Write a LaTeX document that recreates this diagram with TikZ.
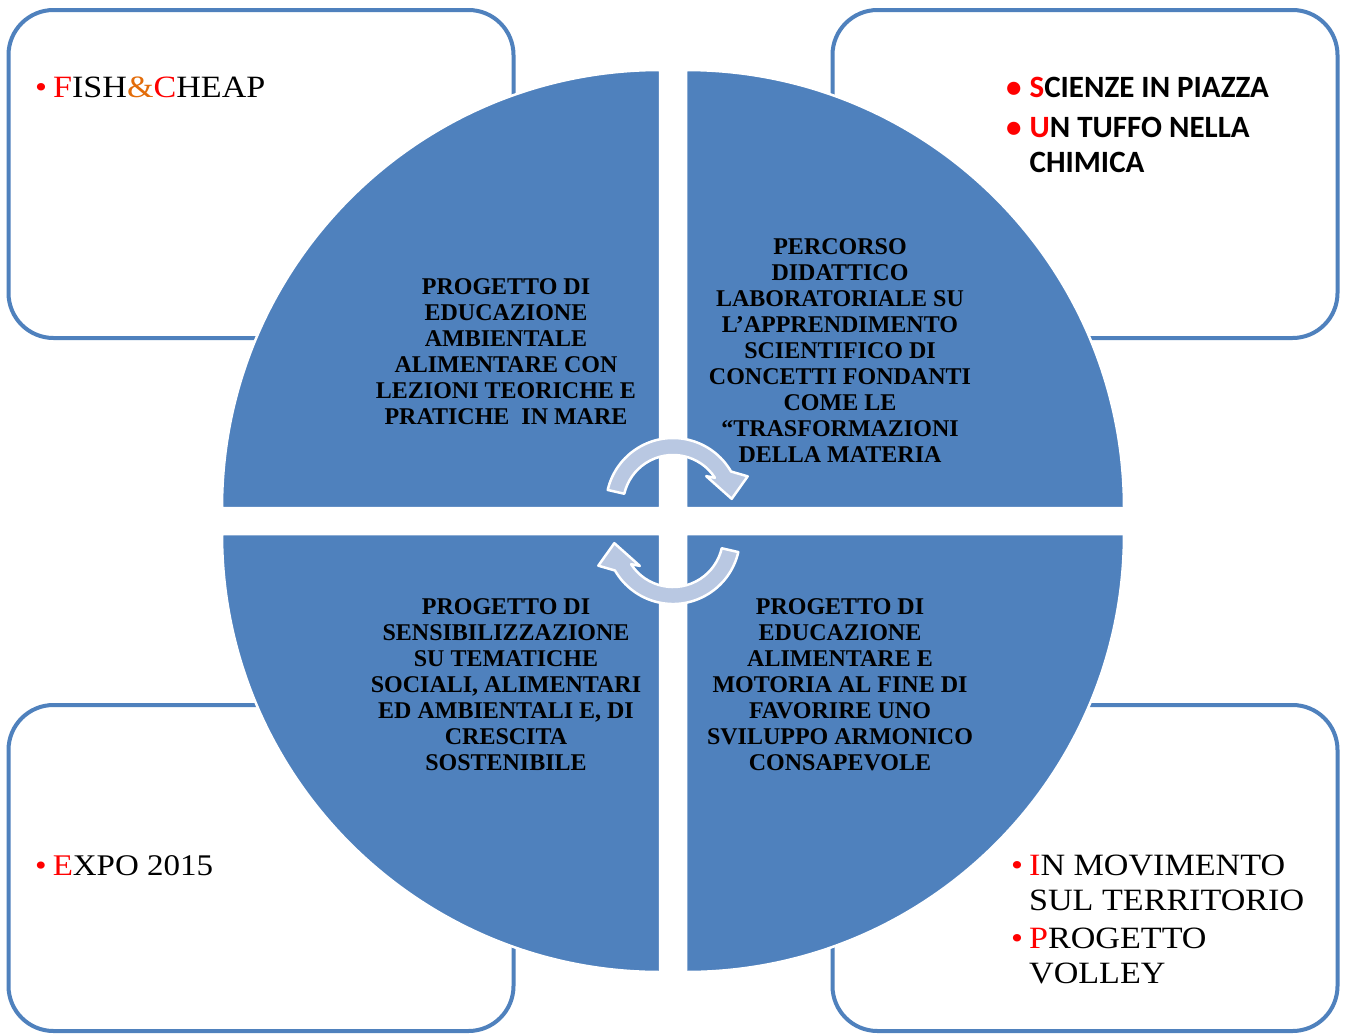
\documentclass[tikz,border=0pt]{standalone}
\usepackage{fontspec}
\setmainfont{Liberation Serif}
\newfontfamily\cornerserif{Liberation Serif}[FakeStretch=1.1]
\newfontfamily\cornersans{Carlito}
\definecolor{quadblue}{RGB}{79,129,189}
\definecolor{arrowfill}{RGB}{185,200,226}
\definecolor{ampcol}{RGB}{227,108,9}
\tikzset{
  sidebox/.style={draw=quadblue, line width=4pt, fill=white, rounded corners=45pt,
    minimum width=505pt, inner sep=0pt},
  quad/.style={fill=quadblue, draw=white, line width=2.5pt},
  cyc/.style={fill=arrowfill, draw=white, line width=2.5pt, line join=round},
  quadtext/.style={align=center, inner sep=0pt, text=black,
    font=\fontsize{24}{26}\selectfont\bfseries},
  serifitem/.style={anchor=base west, inner sep=0pt, text=black,
    font=\cornerserif\fontsize{31}{35}\selectfont},
  sansitem/.style={anchor=base west, inner sep=0pt, text=black,
    font=\cornersans\bfseries\fontsize{31}{35}\selectfont}
}
\newcommand{\rb}{\textcolor{red}{•}}
\begin{document}
\begin{tikzpicture}[x=1pt,y=1pt]
\useasboundingbox (0,0) rectangle (1347,-1034);
\fill[white] (0,0) rectangle (1347,-1034);

% side boxes
\node[sidebox, minimum height=328pt] (boxTL) at (261,-174) {};
\node[sidebox, minimum height=328pt] (boxTR) at (1085,-174) {};
\node[sidebox, minimum height=326pt] (boxBL) at (261,-868) {};
\node[sidebox, minimum height=326pt] (boxBR) at (1085,-868) {};

% quadrants
\path[quad] (660,-508) -- (222,-508) arc[start angle=180, end angle=90, radius=438] -- cycle;
\path[quad] (686,-508) -- (686,-70) arc[start angle=90, end angle=0, radius=438] -- cycle;
\path[quad] (660,-534) -- (222,-534) arc[start angle=180, end angle=270, radius=438] -- cycle;
\path[quad] (686,-534) -- (1124,-534) arc[start angle=0, end angle=-90, radius=438] -- cycle;

% cycle arrows
\begin{scope}[shift={(673,-505)}]
  \path[cyc] (167:67) arc[start angle=167, end angle=30, radius=67]
    -- (21:80) -- (6:59) -- (41:44) -- (33:50)
    arc[start angle=33, end angle=167, radius=50] -- cycle;
\end{scope}
\begin{scope}[shift={(673,-537)}, rotate=180]
  \path[cyc] (167:67) arc[start angle=167, end angle=30, radius=67]
    -- (21:80) -- (6:59) -- (41:44) -- (33:50)
    arc[start angle=33, end angle=167, radius=50] -- cycle;
\end{scope}

% quadrant texts
\node[quadtext] (qTL) at (506,-352) {PROGETTO DI\\EDUCAZIONE\\AMBIENTALE\\ALIMENTARE CON\\LEZIONI TEORICHE E\\PRATICHE \ IN MARE};
\node[quadtext] (qTR) at (840,-351) {PERCORSO\\DIDATTICO\\LABORATORIALE SU\\L’APPRENDIMENTO\\SCIENTIFICO DI\\CONCETTI FONDANTI\\COME LE\\“TRASFORMAZIONI\\DELLA MATERIA};
\node[quadtext] (qBL) at (506,-685) {PROGETTO DI\\SENSIBILIZZAZIONE\\SU TEMATICHE\\SOCIALI, ALIMENTARI\\ED AMBIENTALI E, DI\\CRESCITA\\SOSTENIBILE};
\node[quadtext] (qBR) at (840,-685) {PROGETTO DI\\EDUCAZIONE\\ALIMENTARE E\\MOTORIA AL FINE DI\\FAVORIRE UNO\\SVILUPPO ARMONICO\\CONSAPEVOLE};

% corner texts
\node[serifitem] (tFish) at (35,-97) {\begin{tabular}[t]{@{}l@{\hspace{6pt}}l@{}}\rb & \textcolor{red}{F}ISH\textcolor{ampcol}{\&}\textcolor{red}{C}HEAP\end{tabular}};
\node[sansitem] (tScience) at (1006,-97) {\begin{tabular}[t]{@{}l@{\hspace{8pt}}l@{}}\rb & \textcolor{red}{S}CIENZE IN PIAZZA\\[5pt] \rb & \textcolor{red}{U}N TUFFO NELLA\\ & CHIMICA\end{tabular}};
\node[serifitem, font=\cornerserif\fontsize{30}{35}\selectfont] (tExpo) at (35,-875) {\begin{tabular}[t]{@{}l@{\hspace{6pt}}l@{}}\rb & \textcolor{red}{E}XPO 2015\end{tabular}};
\node[serifitem] (tMove) at (1011,-875) {\begin{tabular}[t]{@{}l@{\hspace{6pt}}l@{}}\rb & \textcolor{red}{I}N MOVIMENTO\\ & SUL TERRITORIO\\[3pt] \rb & \textcolor{red}{P}ROGETTO\\ & VOLLEY\end{tabular}};
\end{tikzpicture}
\end{document}
